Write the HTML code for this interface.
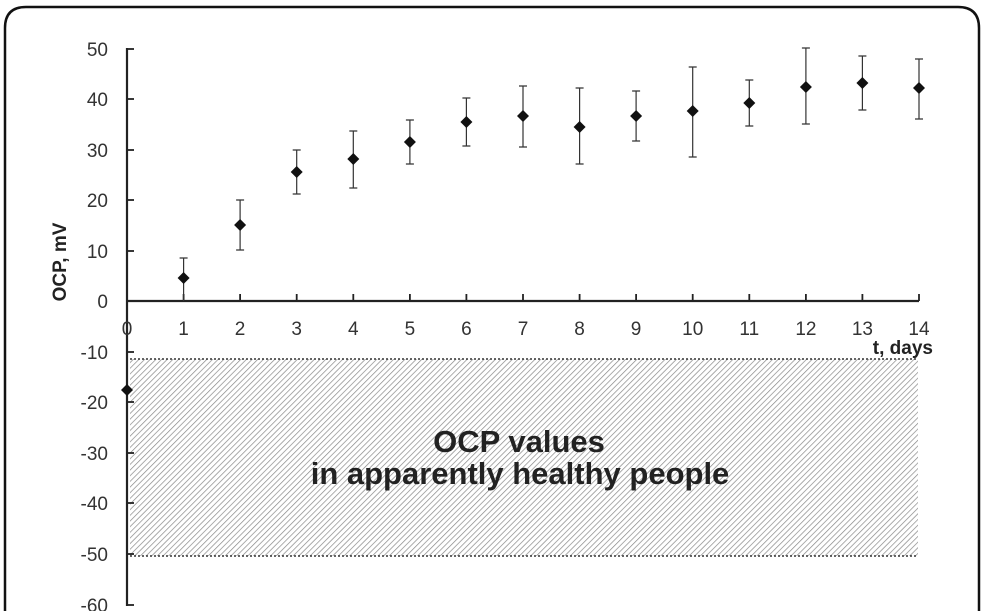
<!DOCTYPE html>
<html><head><style>
html,body{margin:0;padding:0;background:#fff;}
svg{display:block;font-family:"Liberation Sans",Arial,sans-serif;}
</style></head><body>
<svg width="984" height="611" viewBox="0 0 984 611">
<defs>
<pattern id="h" patternUnits="userSpaceOnUse" width="4" height="4" patternTransform="rotate(45)">
<rect width="4" height="4" fill="#fff"/>
<line x1="0" y1="0" x2="0" y2="4" stroke="#888" stroke-width="1.4"/>
</pattern>
</defs>
<path d="M5,640 L5,28 Q5,7 26,7 L958,7 Q979,7 979,28 L979,640" fill="none" stroke="#111" stroke-width="2.5"/>
<rect x="130" y="359" width="788" height="197" fill="url(#h)"/>
<line x1="130" y1="359" x2="918" y2="359" stroke="#333" stroke-width="1.5" stroke-dasharray="2,2"/>
<line x1="130" y1="556" x2="918" y2="556" stroke="#333" stroke-width="1.5" stroke-dasharray="2,2"/>
<g stroke="#222" stroke-width="2.2" fill="none">
<line x1="127" y1="48" x2="127" y2="606"/>
<line x1="127" y1="301" x2="919" y2="301"/>
</g>
<g stroke="#222" stroke-width="1.8">
<line x1="127" y1="49" x2="134" y2="49"/><line x1="127" y1="99" x2="134" y2="99"/><line x1="127" y1="150" x2="134" y2="150"/><line x1="127" y1="200" x2="134" y2="200"/><line x1="127" y1="251" x2="134" y2="251"/><line x1="127" y1="352" x2="134" y2="352"/><line x1="127" y1="402" x2="134" y2="402"/><line x1="127" y1="453" x2="134" y2="453"/><line x1="127" y1="503" x2="134" y2="503"/><line x1="127" y1="554" x2="134" y2="554"/><line x1="127" y1="605" x2="134" y2="605"/>
<line x1="183.6" y1="294" x2="183.6" y2="301"/><line x1="240.1" y1="294" x2="240.1" y2="301"/><line x1="296.7" y1="294" x2="296.7" y2="301"/><line x1="353.3" y1="294" x2="353.3" y2="301"/><line x1="409.9" y1="294" x2="409.9" y2="301"/><line x1="466.4" y1="294" x2="466.4" y2="301"/><line x1="523" y1="294" x2="523" y2="301"/><line x1="579.6" y1="294" x2="579.6" y2="301"/><line x1="636.1" y1="294" x2="636.1" y2="301"/><line x1="692.7" y1="294" x2="692.7" y2="301"/><line x1="749.3" y1="294" x2="749.3" y2="301"/><line x1="805.9" y1="294" x2="805.9" y2="301"/><line x1="862.4" y1="294" x2="862.4" y2="301"/><line x1="919" y1="294" x2="919" y2="301"/>
</g>
<g font-size="19" fill="#333" text-anchor="end">
<text x="108" y="56">50</text><text x="108" y="106">40</text><text x="108" y="157">30</text><text x="108" y="207">20</text><text x="108" y="258">10</text><text x="108" y="308">0</text><text x="108" y="359">-10</text><text x="108" y="409">-20</text><text x="108" y="460">-30</text><text x="108" y="510">-40</text><text x="108" y="561">-50</text><text x="108" y="612">-60</text>
</g>
<g font-size="19" fill="#333" text-anchor="middle">
<text x="127" y="335">0</text><text x="183.6" y="335">1</text><text x="240.1" y="335">2</text><text x="296.7" y="335">3</text><text x="353.3" y="335">4</text><text x="409.9" y="335">5</text><text x="466.4" y="335">6</text><text x="523" y="335">7</text><text x="579.6" y="335">8</text><text x="636.1" y="335">9</text><text x="692.7" y="335">10</text><text x="749.3" y="335">11</text><text x="805.9" y="335">12</text><text x="862.4" y="335">13</text><text x="919" y="335">14</text>
</g>
<text x="933" y="354" font-size="19" font-weight="bold" fill="#222" text-anchor="end">t, days</text>
<text transform="translate(66,262) rotate(-90)" font-size="19" font-weight="bold" fill="#222" text-anchor="middle">OCP, mV</text>
<text x="519" y="452" font-size="31" font-weight="bold" fill="#222" text-anchor="middle">OCP values</text>
<text x="520" y="484" font-size="31" font-weight="bold" fill="#222" text-anchor="middle">in apparently healthy people</text>
<g stroke="#333" stroke-width="1.2">
<path d="M183.6,258V301M179.6,258h8"/>
<path d="M240.1,200V250M236.1,200h8M236.1,250h8"/>
<path d="M296.7,150V194M292.7,150h8M292.7,194h8"/>
<path d="M353.3,131V188M349.3,131h8M349.3,188h8"/>
<path d="M409.9,120V164M405.9,120h8M405.9,164h8"/>
<path d="M466.4,98V146M462.4,98h8M462.4,146h8"/>
<path d="M523,86V147M519,86h8M519,147h8"/>
<path d="M579.6,88V164M575.6,88h8M575.6,164h8"/>
<path d="M636.1,91V141M632.1,91h8M632.1,141h8"/>
<path d="M692.7,67V157M688.7,67h8M688.7,157h8"/>
<path d="M749.3,80V126M745.3,80h8M745.3,126h8"/>
<path d="M805.9,48V124M801.9,48h8M801.9,124h8"/>
<path d="M862.4,56V110M858.4,56h8M858.4,110h8"/>
<path d="M919,59V119M915,59h8M915,119h8"/>
</g>
<g fill="#111">
<path d="M127,384l6,6l-6,6l-6,-6z"/>
<path d="M183.6,272l6,6l-6,6l-6,-6z"/>
<path d="M240.1,219l6,6l-6,6l-6,-6z"/>
<path d="M296.7,166l6,6l-6,6l-6,-6z"/>
<path d="M353.3,153l6,6l-6,6l-6,-6z"/>
<path d="M409.9,136l6,6l-6,6l-6,-6z"/>
<path d="M466.4,116l6,6l-6,6l-6,-6z"/>
<path d="M523,110l6,6l-6,6l-6,-6z"/>
<path d="M579.6,121l6,6l-6,6l-6,-6z"/>
<path d="M636.1,110l6,6l-6,6l-6,-6z"/>
<path d="M692.7,105l6,6l-6,6l-6,-6z"/>
<path d="M749.3,97l6,6l-6,6l-6,-6z"/>
<path d="M805.9,81l6,6l-6,6l-6,-6z"/>
<path d="M862.4,77l6,6l-6,6l-6,-6z"/>
<path d="M919,82l6,6l-6,6l-6,-6z"/>
</g>
</svg>
</body></html>
